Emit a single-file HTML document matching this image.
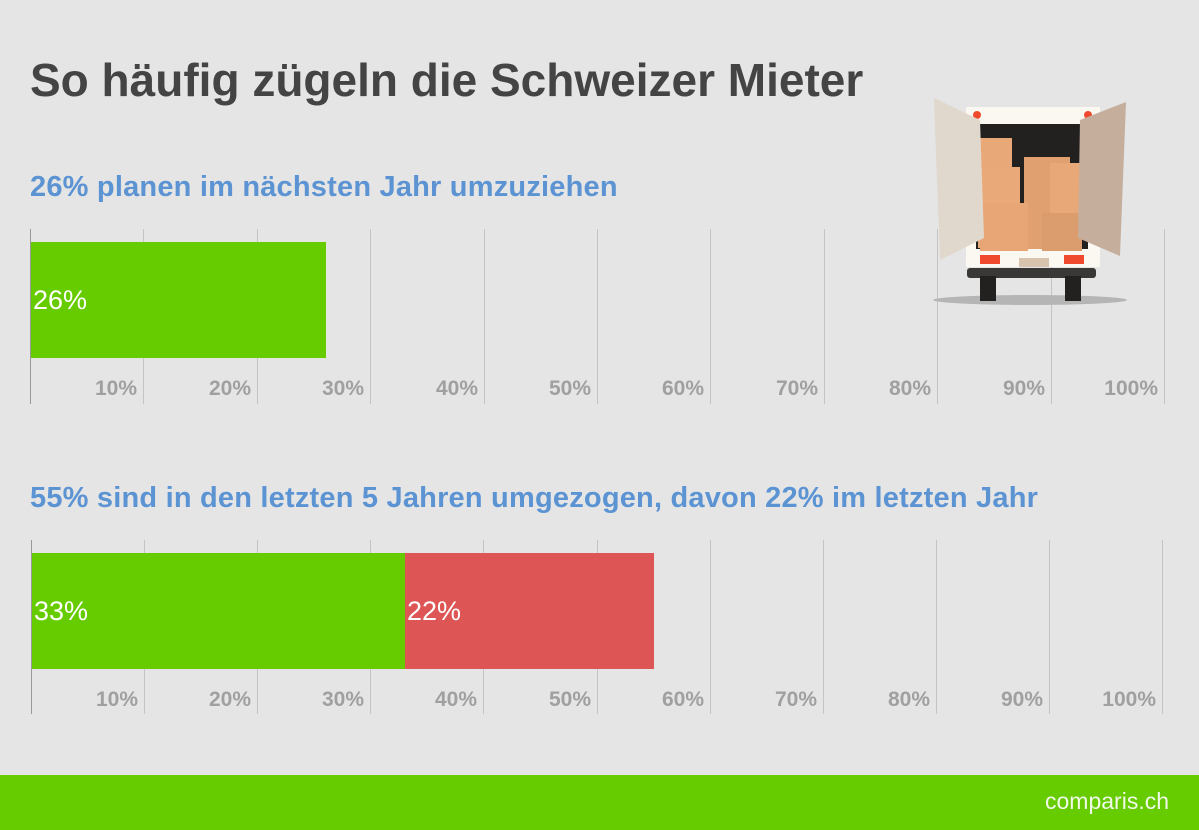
<!DOCTYPE html>
<html><head><meta charset="utf-8"><style>
body{margin:0;width:1199px;height:830px;background:#e5e5e5;font-family:"Liberation Sans",sans-serif;position:relative;overflow:hidden}
.t{position:absolute;left:30px;top:53px;font-size:46px;font-weight:bold;color:#444;letter-spacing:0px}
.s{position:absolute;left:30px;font-size:29px;color:#5b93d3;font-weight:bold;letter-spacing:0.2px}
.g{position:absolute;width:1px;background:#c4c4c4}
.l{position:absolute;font-size:21px;font-weight:bold;color:#a0a0a0;text-align:right;width:80px}
.b{position:absolute;color:#fff;font-size:27px;line-height:116px;padding-left:2px;box-sizing:border-box}
.f{position:absolute;left:0;top:775px;width:1199px;height:55px;background:#66cc00}
.logo{position:absolute;right:30px;top:788px;color:#f0f8e8;font-size:23px}
</style></head><body>
<div class="t">So häufig zügeln die Schweizer Mieter</div>
<div class="s" style="top:171px">26% planen im nächsten Jahr umzuziehen</div>
<div class="s" style="top:482px">55% sind in den letzten 5 Jahren umgezogen, davon 22% im letzten Jahr</div>
<div id="c"></div>
<svg style="position:absolute;left:920px;top:90px" width="220" height="220" viewBox="0 0 220 220">
<ellipse cx="110" cy="210" rx="97" ry="5" fill="#b5b5b5"/>
<rect x="46" y="17" width="134" height="160" fill="#fbf8f2"/>
<rect x="56" y="34" width="112" height="125" fill="#232120"/>
<circle cx="57" cy="25" r="4" fill="#f04a2e"/><circle cx="168" cy="25" r="4" fill="#f04a2e"/>
<rect x="58" y="48" width="34" height="110" fill="#e8a878"/>
<rect x="104" y="67" width="46" height="92" fill="#e0a070"/>
<rect x="62" y="77" width="38" height="82" fill="#eaa979"/>
<rect x="130" y="73" width="32" height="86" fill="#e9a877"/>
<rect x="60" y="113" width="48" height="48" fill="#e8a676"/>
<rect x="122" y="123" width="40" height="38" fill="#dc9d6e"/>
<path d="M14 8 L60 30 L64 148 L20 170 Z" fill="#e0d7cd"/>
<path d="M206 12 L160 30 L158 148 L200 166 Z" fill="#c6ae9d"/>
<rect x="60" y="165" width="20" height="9" fill="#f04a2e"/><rect x="144" y="165" width="20" height="9" fill="#f04a2e"/>
<rect x="99" y="168" width="30" height="9" fill="#d8c3ae"/>
<rect x="47" y="178" width="129" height="10" rx="3" fill="#3a3836"/>
<rect x="60" y="186" width="16" height="25" fill="#232120"/><rect x="145" y="186" width="16" height="25" fill="#232120"/>
</svg>
<div class="f"></div><div class="logo">comparis.ch</div>
<script>
var c=document.getElementById('c'),h='';
function chart(x0,step,top,bot,lblY){
 for(var i=0;i<=10;i++){var x=Math.round(x0+step*i);
  h+='<div class="g" style="left:'+x+'px;top:'+top+'px;height:'+(bot-top)+'px;'+(i==0?'background:#999':'')+'"></div>';
  if(i>0)h+='<div class="l" style="left:'+(x-86)+'px;top:'+lblY+'px">'+(i*10)+'%</div>';}
}
chart(30,113.4,229,404,377);
chart(31,113.1,540,714,688);
h+='<div class="b" style="left:31px;top:242px;width:295px;height:116px;background:#66cc00">26%</div>';
h+='<div class="b" style="left:32px;top:553px;width:373px;height:116px;background:#66cc00">33%</div>';
h+='<div class="b" style="left:405px;top:553px;width:249px;height:116px;background:#dd5555">22%</div>';
c.innerHTML=h;
</script>
</body></html>
